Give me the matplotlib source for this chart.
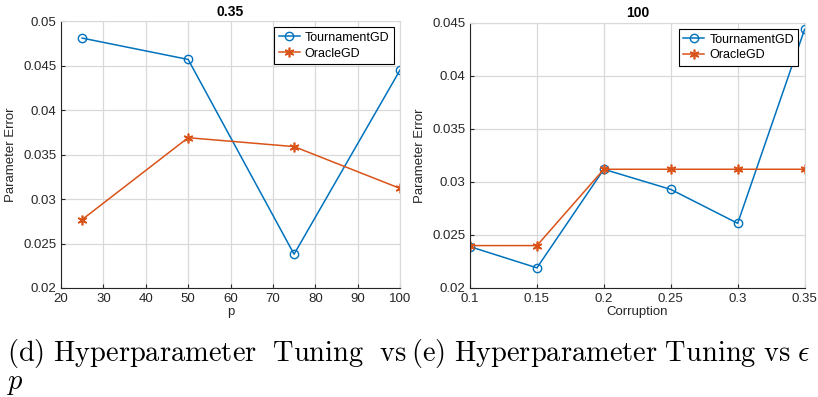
import matplotlib
matplotlib.use('Agg')
import matplotlib.pyplot as plt

# data
p_vals = [25, 50, 75, 100]
tour_p = [0.0481, 0.0457, 0.0238, 0.0445]
oracle_p = [0.0277, 0.0369, 0.0359, 0.0312]

corr_vals = [0.1, 0.15, 0.2, 0.25, 0.3, 0.35]
tour_c = [0.0239, 0.0219, 0.0312, 0.0293, 0.0261, 0.0444]
oracle_c = [0.0240, 0.0240, 0.0312, 0.0312, 0.0312, 0.0312]

blue = '#0072BD'
orange = '#D95319'
asterisk = (6, 2, 0)

plt.rcParams['font.family'] = ['Liberation Sans', 'DejaVu Sans']
plt.rcParams['mathtext.fontset'] = 'cm'

fig = plt.figure(figsize=(8.18, 3.97), dpi=100)
ax1 = fig.add_axes([0.0746, 0.2746, 0.4144, 0.672])
ax2 = fig.add_axes([0.5746, 0.2746, 0.409, 0.6675])


def style(ax):
    ax.grid(True, color='#d9d9d9', linewidth=0.9)
    ax.set_axisbelow(True)
    ax.tick_params(direction='in', labelsize=9.5, colors='#262626', length=3,
                   top=False, right=False)
    for s in ax.spines.values():
        s.set_color('#262626')
        s.set_linewidth(0.8)
    ax.spines['top'].set_color('#d9d9d9')
    ax.spines['right'].set_color('#d9d9d9')
    ax.set_ylabel('Parameter Error', fontsize=9.5, color='#262626')
    leg = ax.legend(loc='upper right', fontsize=9, fancybox=False,
                    framealpha=1, borderpad=0.35, handlelength=1.7,
                    handletextpad=0.4, labelspacing=0.3, borderaxespad=0.5)
    leg.get_frame().set_edgecolor('black')
    leg.get_frame().set_linewidth(0.8)


ax1.plot(p_vals, tour_p, '-', marker='o', color=blue, mfc='none', ms=6,
         lw=1.1, label='TournamentGD')
ax1.plot(p_vals, oracle_p, '-', marker=asterisk, color=orange, ms=7, mew=1.2,
         lw=1.1, label='OracleGD')
ax1.set_xlim(20, 100)
ax1.set_ylim(0.02, 0.05)
ax1.set_xticks(range(20, 101, 10))
ax1.set_yticks([0.02, 0.025, 0.03, 0.035, 0.04, 0.045, 0.05])
ax1.set_yticklabels(['0.02', '0.025', '0.03', '0.035', '0.04', '0.045', '0.05'])
ax1.set_xlabel('p', fontsize=9.5, color='#262626', labelpad=1)
ax1.set_title('0.35', fontsize=10, fontweight='bold', pad=4)
style(ax1)

ax2.plot(corr_vals, tour_c, '-', marker='o', color=blue, mfc='none', ms=6,
         lw=1.1, label='TournamentGD')
ax2.plot(corr_vals, oracle_c, '-', marker=asterisk, color=orange, ms=7, mew=1.2,
         lw=1.1, label='OracleGD')
ax2.set_xlim(0.1, 0.35)
ax2.set_ylim(0.02, 0.045)
ax2.set_xticks(corr_vals)
ax2.set_xticklabels(['0.1', '0.15', '0.2', '0.25', '0.3', '0.35'])
ax2.set_yticks([0.02, 0.025, 0.03, 0.035, 0.04, 0.045])
ax2.set_yticklabels(['0.02', '0.025', '0.03', '0.035', '0.04', '0.045'])
ax2.set_xlabel('Corruption', fontsize=9.5, color='#262626', labelpad=1)
ax2.set_title('100', fontsize=10, fontweight='bold', pad=4)
style(ax2)

fig.text(0.008, 0.09, r'$\mathrm{(d)\ Hyperparameter\ \ Tuning\ \ vs}$',
         fontsize=20.5, va='baseline')
fig.text(0.008, 0.02, r'$p$', fontsize=20.5, va='baseline')
fig.text(0.503, 0.09, r'$\mathrm{(e)\ Hyperparameter\ Tuning\ vs}\ \epsilon$',
         fontsize=20.5, va='baseline')

fig.savefig('out.png', dpi=100)
